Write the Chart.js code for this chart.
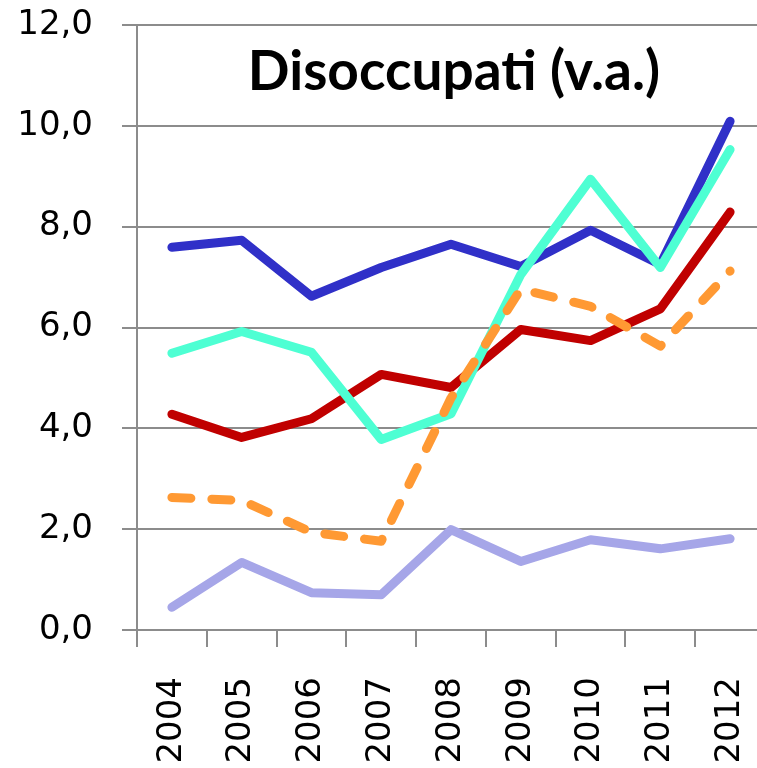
<!DOCTYPE html>
<html>
<head>
<meta charset="utf-8">
<script src="https://cdn.jsdelivr.net/npm/chart.js@4.4.1/dist/chart.umd.min.js"></script>
<style>
  html, body { margin: 0; padding: 0; background: #ffffff; overflow: hidden; width: 757px; height: 768px; }
  canvas { display: block; }
</style>
</head>
<body>
<canvas id="c" width="770" height="800"></canvas>
<script>
const years = ['2004','2005','2006','2007','2008','2009','2010','2011','2012'];
const chartTitle = 'Disoccupati (v.a.)';

const seriesBlue      = [7.59, 7.73, 6.62, 7.19, 7.65, 7.21, 7.93, 7.25, 10.09];
const seriesTurquoise = [5.49, 5.92, 5.51, 3.78, 4.29, 7.05, 8.94, 7.19, 9.53];
const seriesRed       = [4.28, 3.82, 4.19, 5.07, 4.81, 5.96, 5.74, 6.37, 8.29];
const seriesOrange    = [2.63, 2.57, 1.94, 1.76, 4.60, 6.76, 6.42, 5.63, 7.12];
const seriesPurple    = [0.45, 1.34, 0.74, 0.70, 1.99, 1.36, 1.79, 1.61, 1.81];

const yMin = 0, yMax = 12, yStep = 2;

const titlePlugin = {
  id: 'innerTitle',
  afterDraw(chart) {
    const ctx = chart.ctx, a = chart.chartArea;
    ctx.save();
    ctx.font = 'bold 55px Lato';
    ctx.fillStyle = '#000000';
    ctx.textAlign = 'center';
    ctx.textBaseline = 'alphabetic';
    ctx.fillText(chartTitle, (a.left + a.right) / 2 + 3, a.top + 65);
    ctx.restore();
  }
};

const lineStyle = {
  borderWidth: 9,
  pointRadius: 0,
  pointHoverRadius: 0,
  tension: 0,
  fill: false,
  borderCapStyle: 'round',
  borderJoinStyle: 'round'
};

function zeroPadding(scale) {
  scale.paddingLeft = 0;
  scale.paddingRight = 0;
  scale.paddingTop = 0;
  scale.paddingBottom = 0;
}

new Chart(document.getElementById('c'), {
  type: 'line',
  data: {
    labels: years,
    datasets: [
      Object.assign({ label: 'Arancio', data: seriesOrange, borderColor: '#FF9933', borderDash: [19, 21] }, lineStyle),
      Object.assign({ label: 'Turchese', data: seriesTurquoise, borderColor: '#4EFFD3' }, lineStyle),
      Object.assign({ label: 'Blu', data: seriesBlue, borderColor: '#3030C8' }, lineStyle),
      Object.assign({ label: 'Rosso', data: seriesRed, borderColor: '#C00000' }, lineStyle),
      Object.assign({ label: 'Lilla', data: seriesPurple, borderColor: '#A6A6E8' }, lineStyle)
    ]
  },
  options: {
    responsive: false,
    devicePixelRatio: 1,
    animation: false,
    layout: { padding: { top: 25, right: 5, left: 0, bottom: 0 } },
    plugins: {
      legend: { display: false },
      title: { display: false },
      tooltip: { enabled: false }
    },
    scales: {
      x: {
        type: 'category',
        offset: true,
        grid: {
          offset: true,
          drawOnChartArea: false,
          drawTicks: true,
          tickLength: 17,
          color: '#8C8C8C',
          lineWidth: 2
        },
        border: { display: true, color: '#8C8C8C', width: 2 },
        ticks: {
          autoSkip: false,
          minRotation: 90,
          maxRotation: 90,
          padding: 30,
          color: '#000000',
          font: { family: 'DejaVu Sans', size: 34 }
        },
        afterFit(scale) { scale.height = 800 - 630; zeroPadding(scale); }
      },
      y: {
        min: yMin,
        max: yMax,
        grid: {
          drawOnChartArea: true,
          drawTicks: true,
          tickLength: 15,
          color: '#8C8C8C',
          lineWidth: 2
        },
        border: { display: true, color: '#8C8C8C', width: 2 },
        ticks: {
          stepSize: yStep,
          padding: 29,
          color: '#000000',
          font: { family: 'DejaVu Sans', size: 34 },
          callback: (v) => v.toFixed(1).replace('.', ',')
        },
        afterFit(scale) { scale.width = 137; zeroPadding(scale); }
      }
    }
  },
  plugins: [titlePlugin]
});
</script>
</body>
</html>
